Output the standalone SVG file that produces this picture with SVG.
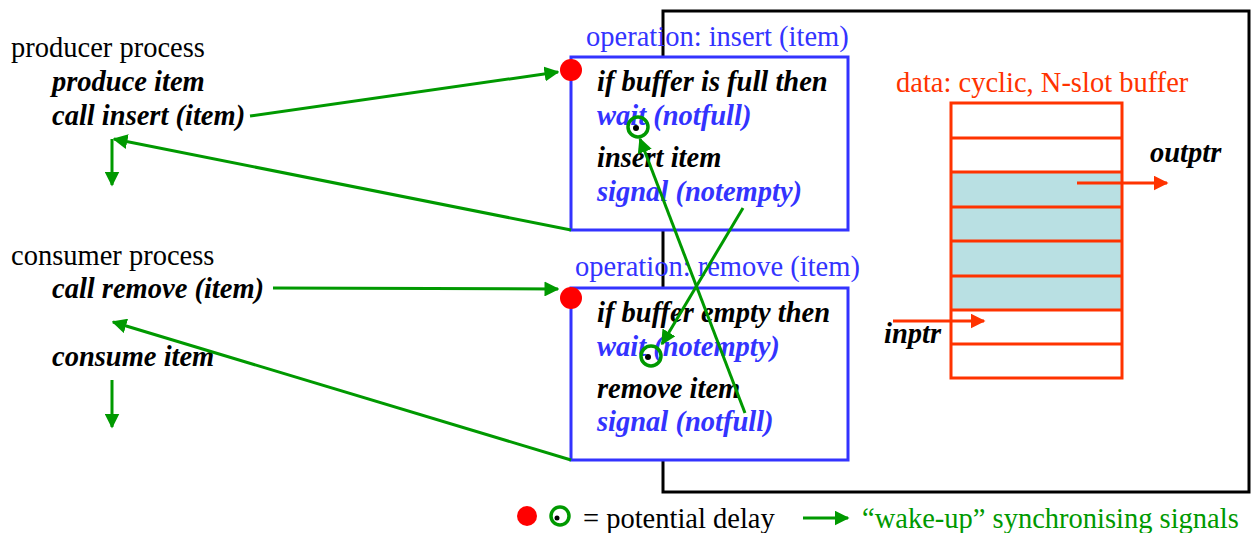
<svg xmlns="http://www.w3.org/2000/svg" width="1252" height="533" viewBox="0 0 1252 533">
<defs>
<style>
.t{font-family:"Liberation Serif","Times New Roman",serif;font-size:28.5px}
.bi{font-weight:bold;font-style:italic}
.blk{fill:#000}
.blu{fill:#3333FF}
.org{fill:#FF3300}
.grn{fill:#009900}
.box{fill:#fff;stroke:#3333FF;stroke-width:3}
.g{stroke:#009900;stroke-width:3;fill:none}
.o{stroke:#FF3300;stroke-width:3;fill:none}
</style>
<marker id="ga" viewBox="0 0 10 10" refX="9" refY="5" markerWidth="5" markerHeight="5" orient="auto" markerUnits="strokeWidth"><path d="M0,0 L10,5 L0,10 z" fill="#009900"/></marker>
<marker id="oa" viewBox="0 0 10 10" refX="9" refY="5" markerWidth="5" markerHeight="5" orient="auto" markerUnits="strokeWidth"><path d="M0,0 L10,5 L0,10 z" fill="#FF3300"/></marker>
</defs>
<rect width="1252" height="533" fill="#fff"/>
<g id="monitor">
<rect x="663" y="11" width="586" height="481" fill="none" stroke="#000" stroke-width="3"/>
</g>
<g id="producer">
<text class="t blk" x="11" y="57">producer process</text>
<text class="t bi blk" x="52" y="91">produce item</text>
<text class="t bi blk" x="52" y="125">call insert (item)</text>
</g>
<g id="consumer">
<text class="t blk" x="11" y="265">consumer process</text>
<text class="t bi blk" x="52" y="298">call remove (item)</text>
<text class="t bi blk" x="52" y="366">consume item</text>
</g>
<g id="insert-op">
<text class="t blu" x="586" y="46">operation: insert (item)</text>
<rect class="box" x="571" y="57" width="277" height="173"/>
<text class="t bi blk" x="597" y="91">if buffer is full then</text>
<text class="t bi blu" x="597" y="125">wait (notfull)</text>
<text class="t bi blk" x="597" y="167">insert item</text>
<text class="t bi blu" x="597" y="201">signal (notempty)</text>
<circle cx="571" cy="70" r="11" fill="#FF0000"/>
<circle cx="638" cy="127" r="10" fill="none" stroke="#009900" stroke-width="3.5"/>
<circle cx="636" cy="128" r="3" fill="#000"/>
</g>
<g id="remove-op">
<rect x="572" y="265" width="80" height="22" fill="#fff"/>
<text class="t blu" x="575" y="276">operation: remove (item)</text>
<rect class="box" x="571" y="288" width="277" height="172"/>
<text class="t bi blk" x="597" y="322">if buffer empty then</text>
<text class="t bi blu" x="597" y="356">wait (notempty)</text>
<text class="t bi blk" x="597" y="398">remove item</text>
<text class="t bi blu" x="597" y="431">signal (notfull)</text>
<circle cx="571" cy="298" r="11" fill="#FF0000"/>
<circle cx="651" cy="356" r="10" fill="none" stroke="#009900" stroke-width="3.5"/>
<circle cx="648" cy="357" r="3" fill="#000"/>
</g>
<g id="buffer">
<text class="t org" x="896" y="92">data: cyclic, N-slot buffer</text>
<rect x="951" y="172" width="171" height="138" fill="#B9E0E3"/>
<rect x="951" y="103" width="171" height="275" fill="none" stroke="#FF3300" stroke-width="3"/>
<path class="o" d="M951,138H1122M951,172H1122M951,207H1122M951,241H1122M951,276H1122M951,310H1122M951,344H1122"/>
<text class="t bi blk" x="1150" y="162">outptr</text>
<text class="t bi blk" x="884" y="343">inptr</text>
<line class="o" x1="1077" y1="183" x2="1167" y2="183" marker-end="url(#oa)"/>
<line class="o" x1="893" y1="321" x2="984" y2="321" marker-end="url(#oa)"/>
</g>
<g id="connectors">
<line class="g" x1="250" y1="116" x2="558" y2="72" marker-end="url(#ga)"/>
<line class="g" x1="571" y1="230" x2="114" y2="139" marker-end="url(#ga)"/>
<line class="g" x1="112" y1="139" x2="112" y2="185" marker-end="url(#ga)"/>
<line class="g" x1="273" y1="288" x2="558" y2="289" marker-end="url(#ga)"/>
<line class="g" x1="571" y1="460" x2="113" y2="322" marker-end="url(#ga)"/>
<line class="g" x1="112" y1="380" x2="112" y2="427" marker-end="url(#ga)"/>
<line class="g" x1="745" y1="413" x2="640" y2="139" marker-end="url(#ga)"/>
<line class="g" x1="743" y1="208" x2="662" y2="344" marker-end="url(#ga)"/>
</g>
<g id="legend">
<circle cx="527" cy="516" r="10" fill="#FF0000"/>
<circle cx="560" cy="516" r="9" fill="none" stroke="#009900" stroke-width="3.5"/>
<circle cx="557" cy="518" r="2.5" fill="#000"/>
<text class="t blk" x="583" y="528">= potential delay</text>
<line class="g" x1="803" y1="518" x2="848" y2="518" marker-end="url(#ga)"/>
<text class="t grn" x="862" y="528">“wake-up” synchronising signals</text>
</g>
</svg>
